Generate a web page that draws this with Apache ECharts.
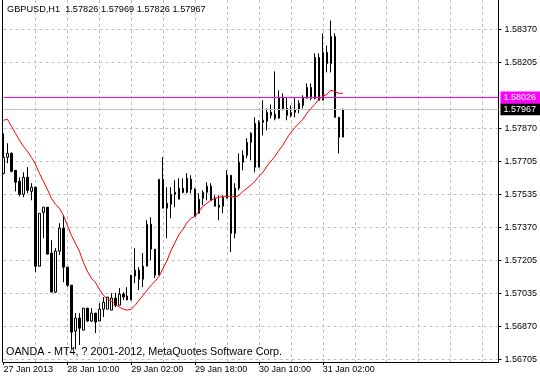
<!DOCTYPE html>
<html><head><meta charset="utf-8">
<script src="https://cdn.jsdelivr.net/npm/echarts@6/dist/echarts.min.js"></script>
<style>html,body{margin:0;padding:0;background:#fff}#c{width:540px;height:379px}</style>
</head><body><div id="c"></div>
<script>
const chartTitle = 'GBPUSD,H1  1.57826 1.57969 1.57826 1.57967';
const footerText = 'OANDA - MT4, ? 2001-2012, MetaQuotes Software Corp.';
const timeLabels = ['27 Jan 2013','28 Jan 10:00','29 Jan 02:00','29 Jan 18:00','30 Jan 10:00','31 Jan 02:00'];
const priceTicks = [1.56705,1.56870,1.57035,1.57205,1.57370,1.57535,1.57705,1.57870,1.58205,1.58370];
const markerLevel = 1.58026;
const bidLevel = 1.57967;
const shiftSlots = 39;

const open = [1.57643,1.57724,1.57744,1.57658,1.57603,1.57537,1.57623,1.57552,1.57573,1.57174,
1.57446,1.57472,1.57240,1.57043,1.57250,1.57366,1.57169,1.57078,1.56846,1.56912,
1.56851,1.56962,1.56897,1.56937,1.56897,1.56957,1.56957,1.56952,1.57013,1.56977,
1.57033,1.57023,1.57003,1.57124,1.57154,1.57108,1.57174,1.57386,1.57260,1.57129,
1.57613,1.57467,1.57487,1.57547,1.57512,1.57568,1.57547,1.57613,1.57562,1.57441,
1.57517,1.57547,1.57578,1.57517,1.57482,1.57477,1.57517,1.57633,1.57340,1.57568,
1.57699,1.57734,1.57800,1.57895,1.57674,1.57901,1.57906,1.57951,1.57941,1.57921,
1.58027,1.57971,1.57936,1.57951,1.57966,1.57986,1.58022,1.58077,1.58022,1.58228,
1.58012,1.58254,1.58198,1.58334,1.57926,1.57826];
const high = [1.57845,1.57795,1.57749,1.57658,1.57623,1.57648,1.57674,1.57593,1.57573,1.57441,
1.57472,1.57472,1.57305,1.57265,1.57391,1.57431,1.57169,1.57078,1.56937,1.56937,
1.56962,1.56962,1.56962,1.56937,1.56987,1.57018,1.57018,1.57038,1.57038,1.57063,
1.57043,1.57068,1.57129,1.57265,1.57169,1.57240,1.57406,1.57421,1.57260,1.57613,
1.57724,1.57573,1.57573,1.57608,1.57618,1.57618,1.57643,1.57633,1.57568,1.57542,
1.57557,1.57598,1.57593,1.57532,1.57532,1.57532,1.57658,1.57633,1.57593,1.57744,
1.57759,1.57820,1.57850,1.57926,1.57911,1.58012,1.57971,1.57991,1.58158,1.58062,
1.58047,1.58027,1.57986,1.58027,1.58012,1.58037,1.58097,1.58097,1.58249,1.58249,
1.58350,1.58289,1.58415,1.58350,1.57926,1.57969];
const low = [1.57638,1.57694,1.57648,1.57552,1.57527,1.57522,1.57542,1.57507,1.57144,1.57174,
1.57315,1.57235,1.57043,1.57038,1.57230,1.57093,1.57068,1.56755,1.56755,1.56776,
1.56851,1.56892,1.56892,1.56836,1.56897,1.56917,1.56957,1.56952,1.56967,1.56977,
1.57003,1.57003,1.57003,1.57088,1.57053,1.57068,1.57174,1.57204,1.57114,1.57129,
1.57467,1.57315,1.57416,1.57472,1.57512,1.57542,1.57542,1.57542,1.57426,1.57441,
1.57482,1.57507,1.57507,1.57477,1.57406,1.57441,1.57517,1.57245,1.57315,1.57557,
1.57658,1.57719,1.57709,1.57648,1.57674,1.57835,1.57860,1.57921,1.57911,1.57921,
1.57961,1.57911,1.57926,1.57926,1.57946,1.57971,1.58022,1.58012,1.58017,1.58012,
1.58012,1.58153,1.58153,1.57926,1.57744,1.57826];
const close = [1.57724,1.57744,1.57653,1.57598,1.57537,1.57623,1.57557,1.57573,1.57174,1.57441,
1.57472,1.57235,1.57043,1.57250,1.57366,1.57169,1.57078,1.56841,1.56912,1.56861,
1.56962,1.56897,1.56937,1.56892,1.56957,1.56992,1.57018,1.57013,1.56977,1.57033,
1.57018,1.57003,1.57129,1.57154,1.57108,1.57174,1.57386,1.57260,1.57129,1.57613,
1.57467,1.57492,1.57537,1.57537,1.57568,1.57547,1.57618,1.57562,1.57426,1.57512,
1.57547,1.57578,1.57507,1.57477,1.57472,1.57522,1.57633,1.57340,1.57568,1.57699,
1.57734,1.57800,1.57845,1.57674,1.57901,1.57911,1.57951,1.57936,1.57921,1.58027,
1.57971,1.57936,1.57951,1.57966,1.57996,1.58027,1.58077,1.58022,1.58228,1.58012,
1.58254,1.58198,1.58334,1.57926,1.57825,1.57967];
const ma = [1.57911,1.57916,1.57880,1.57845,1.57810,1.57779,1.57754,1.57724,1.57689,1.57643,
1.57603,1.57562,1.57517,1.57487,1.57467,1.57431,1.57381,1.57330,1.57290,1.57250,
1.57194,1.57149,1.57114,1.57093,1.57058,1.57028,1.57008,1.56998,1.56982,1.56967,
1.56957,1.56952,1.56957,1.56977,1.57003,1.57028,1.57053,1.57078,1.57098,1.57124,
1.57164,1.57204,1.57255,1.57295,1.57335,1.57361,1.57396,1.57416,1.57426,1.57452,
1.57477,1.57492,1.57507,1.57517,1.57522,1.57527,1.57527,1.57527,1.57522,1.57532,
1.57552,1.57568,1.57583,1.57603,1.57628,1.57648,1.57679,1.57704,1.57729,1.57759,
1.57785,1.57820,1.57850,1.57875,1.57895,1.57916,1.57946,1.57971,1.57991,1.58017,
1.58032,1.58042,1.58062,1.58057,1.58047,1.58047];

const nSlots = open.length + shiftSlots;
const categories = [];
for (let i = 0; i < nSlots; i++) categories.push(String(i));
const candles = open.map((o, i) => [o, close[i], low[i], high[i]]);

const FONT = 'Liberation Sans';
const labelStep = 16, gridStep = 8;
const showTime = (i) => i % labelStep === 0 && (i / labelStep) < timeLabels.length;
const yMin = 1.56690, yMax = 1.585185;

function levelLine(value, lineColor, boxColor) {
  return {
    type: 'line', data: [], silent: true, z: 5,
    markLine: {
      symbol: ['none', 'none'], silent: true, animation: false, precision: 5,
      lineStyle: {color: lineColor, type: 'solid', width: 1, opacity: 1},
      label: {show: true, position: 'end', distance: 2, formatter: (p) => Number(p.value).toFixed(5),
        backgroundColor: boxColor, color: '#fff', fontFamily: FONT, fontSize: 9,
        lineHeight: 10, padding: [1, 4, 1, 3]},
      data: [{yAxis: value}]
    }
  };
}

const chart = echarts.init(document.getElementById('c'), null, {renderer: 'canvas'});
chart.setOption({
  animation: false,
  backgroundColor: '#fff',
  title: [
    {text: chartTitle, left: 7, top: 5, padding: 0,
     textStyle: {fontFamily: FONT, fontSize: 9.2, fontWeight: 'normal', color: '#000'}},
    {text: footerText, left: 6, top: 347, padding: 0,
     textStyle: {fontFamily: FONT, fontSize: 10.8, fontWeight: 'normal', color: '#000'}}
  ],
  grid: {left: 3.5, right: 40.5, top: 0, bottom: 17, containLabel: false},
  xAxis: {
    type: 'category', data: categories, boundaryGap: false,
    axisLine: {show: true, lineStyle: {color: '#000', width: 1}},
    axisTick: {show: true, length: 3, interval: (i) => showTime(i), lineStyle: {color: '#000'}},
    axisLabel: {interval: (i) => showTime(i), formatter: (v, i) => showTime(i) ? timeLabels[i / labelStep] : '',
      align: 'left', margin: 3, fontFamily: FONT, fontSize: 9, color: '#000'},
    splitLine: {show: true, interval: (i) => i % gridStep === 0 && i > 0,
      lineStyle: {color: '#c0c0c0', width: 1, type: [3, 3]}}
  },
  yAxis: [
    {type: 'value', position: 'right', min: yMin, max: yMax,
     axisLine: {show: true, lineStyle: {color: '#000', width: 1}},
     axisTick: {show: true, length: 3, customValues: priceTicks, lineStyle: {color: '#000'}},
     axisLabel: {customValues: priceTicks, formatter: (v) => v.toFixed(5), margin: 6,
       fontFamily: FONT, fontSize: 9, color: '#000'},
     splitLine: {show: true, lineStyle: {color: '#c0c0c0', width: 1, type: [3, 3]}}},
    {type: 'value', position: 'left', offset: 1, min: yMin, max: yMax,
     axisLine: {show: true, lineStyle: {color: '#000', width: 1}},
     axisTick: {show: false}, axisLabel: {show: false}, splitLine: {show: false}}
  ],
  series: [
    {type: 'candlestick', data: candles, barWidth: 2, clip: false, z: 3,
     itemStyle: {color: '#fff', color0: '#000', borderColor: '#000', borderColor0: '#000', borderWidth: 1}},
    levelLine(bidLevel, '#c0c0c0', '#000'),
    levelLine(markerLevel, '#ff00ff', '#ff00ff'),
    {type: 'line', data: ma, showSymbol: false, symbol: 'none', z: 6, clip: false,
     lineStyle: {color: '#ff0000', width: 1}}
  ]
});
</script></body></html>
